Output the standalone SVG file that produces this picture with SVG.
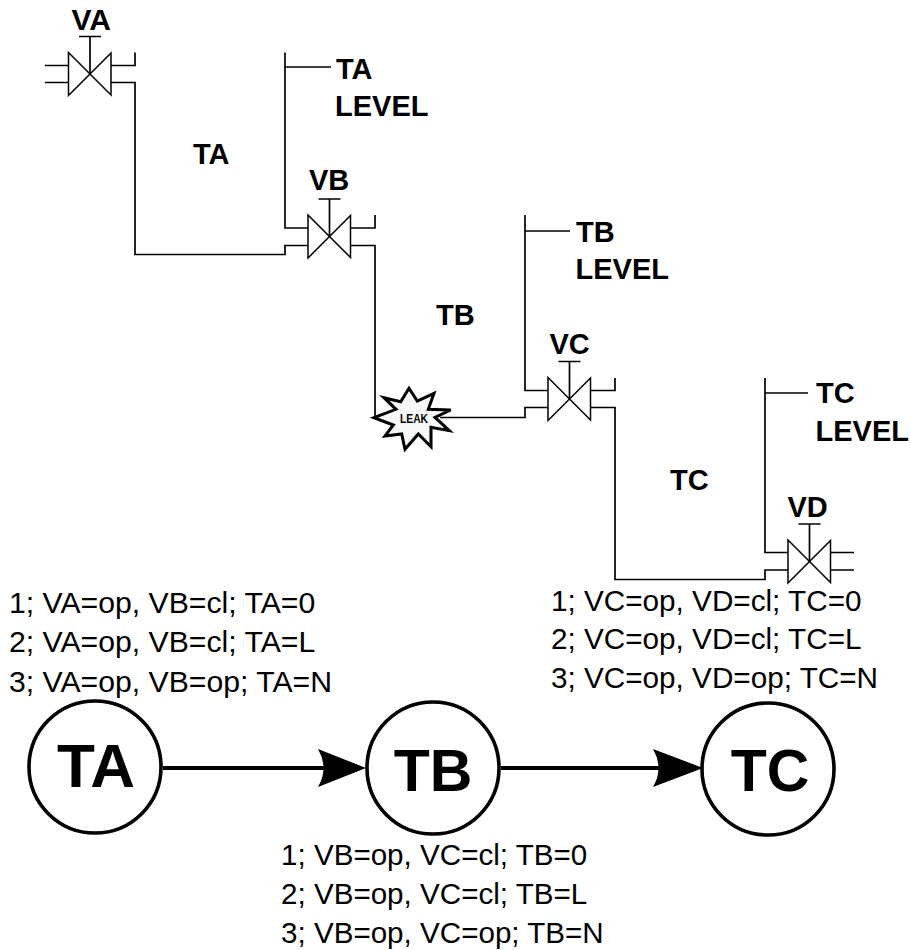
<svg xmlns="http://www.w3.org/2000/svg" width="911" height="950" viewBox="0 0 911 950">
<defs>
<style>
.p{fill:none;stroke:#000;stroke-width:1.700}
.l{fill:none;stroke:#000;stroke-width:1.500}
.b{font-family:"Liberation Sans",Arial,sans-serif;font-weight:bold;font-size:29px;fill:#000}
.t{font-family:"Liberation Sans",Arial,sans-serif;font-size:29.700px;fill:#000}
.c{font-family:"Liberation Sans",Arial,sans-serif;font-weight:bold;font-size:59px;fill:#000;text-anchor:middle}
.n{fill:#fff;stroke:#000;stroke-width:3.600}
.e{fill:none;stroke:#000;stroke-width:4}
</style>
<g id="valve">
<path fill="none" stroke="#000" stroke-width="1.500" d="M-21.500 -21.500L21 21V-21L-21.500 21.500Z"/>
<path class="p" d="M0 0V-37.500"/>
<path class="l" d="M-11 -37.500H11"/>
</g>
</defs>
<rect width="911" height="950" fill="#fff"/>
<g id="connectors">
<path class="p" d="M45 65.500H68M45 82.500H68"/>
<path class="p" d="M135 52.500V65.500H111M111 82.500H135V254.500H285V245.500H308"/>
<path class="p" d="M285 52.500V228H308"/>
<path class="l" d="M285 67H331"/>
<path class="p" d="M375 215V228H351M351 245.500H375V418"/>
<path class="p" d="M525 215V390.500H548"/>
<path class="l" d="M525 231H570"/>
<path class="p" d="M615 378V390.500H591M591 407.500H615V579.500H765V570H788"/>
<path class="p" d="M440 417.500H525V407.500H548"/>
<path class="p" d="M765 378V552.500H788"/>
<path class="l" d="M765 393H808"/>
<path class="p" d="M831 552.500H854M831 570H854"/>
<path class="e" d="M163 768H340"/>
<path d="M366 768L318 749Q329 768 318 787Z" fill="#000"/>
<path class="e" d="M501 768H680"/>
<path d="M703 768L653 749Q664 768 653 787Z" fill="#000"/>
</g>
<g id="VA"><use href="#valve" x="90" y="74"/><text class="b" x="71.500" y="30" style="font-size:30px">VA</text></g>
<g id="VB"><use href="#valve" x="329.500" y="236.500"/><text class="b" x="309" y="190">VB</text></g>
<g id="VC"><use href="#valve" x="569.500" y="399"/><text class="b" x="549.500" y="354">VC</text></g>
<g id="VD"><use href="#valve" x="809.500" y="561.500"/><text class="b" x="787.500" y="517">VD</text></g>
<g id="leak">
<path fill="#f8f8f8" stroke="#000" stroke-width="3" d="M374 417.700L396 409.300L384 397.700L400.700 401.700L409 388.300L417.300 401L434 393.300L428.300 409.300L450.700 410L435 417.300L449.300 430.700L431 427.300L431 446.700L418.300 434L405 449.300L401.700 434L385 436L393.300 425Z"/>
<text x="400" y="423" textLength="28" lengthAdjust="spacingAndGlyphs" font-family="'Liberation Sans',Arial,sans-serif" font-weight="bold" font-size="13px">LEAK</text>
</g>
<g id="labels">
<text class="b" x="336" y="79">TA</text><text class="b" x="335" y="116">LEVEL</text>
<text class="b" x="193" y="164">TA</text>
<text class="b" x="576" y="242">TB</text><text class="b" x="575.500" y="279">LEVEL</text>
<text class="b" x="436" y="325">TB</text>
<text class="b" x="816" y="403">TC</text><text class="b" x="815.500" y="441">LEVEL</text>
<text class="b" x="670" y="490">TC</text>
</g>
<g id="TA"><circle class="n" cx="95" cy="767" r="66"/><text class="c" x="96" y="787" style="font-size:62px">TA</text></g>
<g id="TB"><circle class="n" cx="433" cy="768" r="66"/><text class="c" x="433" y="791">TB</text></g>
<g id="TC"><circle class="n" cx="768" cy="769" r="66"/><text class="c" x="770" y="791">TC</text></g>
<g id="captions">
<text class="t" x="9" y="613" style="font-size:30.200px">1; VA=op, VB=cl; TA=0</text>
<text class="t" x="9" y="652" style="font-size:30.200px">2; VA=op, VB=cl; TA=L</text>
<text class="t" x="9" y="692" style="font-size:30.200px">3; VA=op, VB=op; TA=N</text>
<text class="t" x="551" y="611">1; VC=op, VD=cl; TC=0</text>
<text class="t" x="551" y="649">2; VC=op, VD=cl; TC=L</text>
<text class="t" x="551" y="688">3; VC=op, VD=op; TC=N</text>
<text class="t" x="281" y="865" style="font-size:29.600px">1; VB=op, VC=cl; TB=0</text>
<text class="t" x="281" y="904" style="font-size:29.600px">2; VB=op, VC=cl; TB=L</text>
<text class="t" x="281" y="943" style="font-size:29.600px">3; VB=op, VC=op; TB=N</text>
</g>
</svg>
